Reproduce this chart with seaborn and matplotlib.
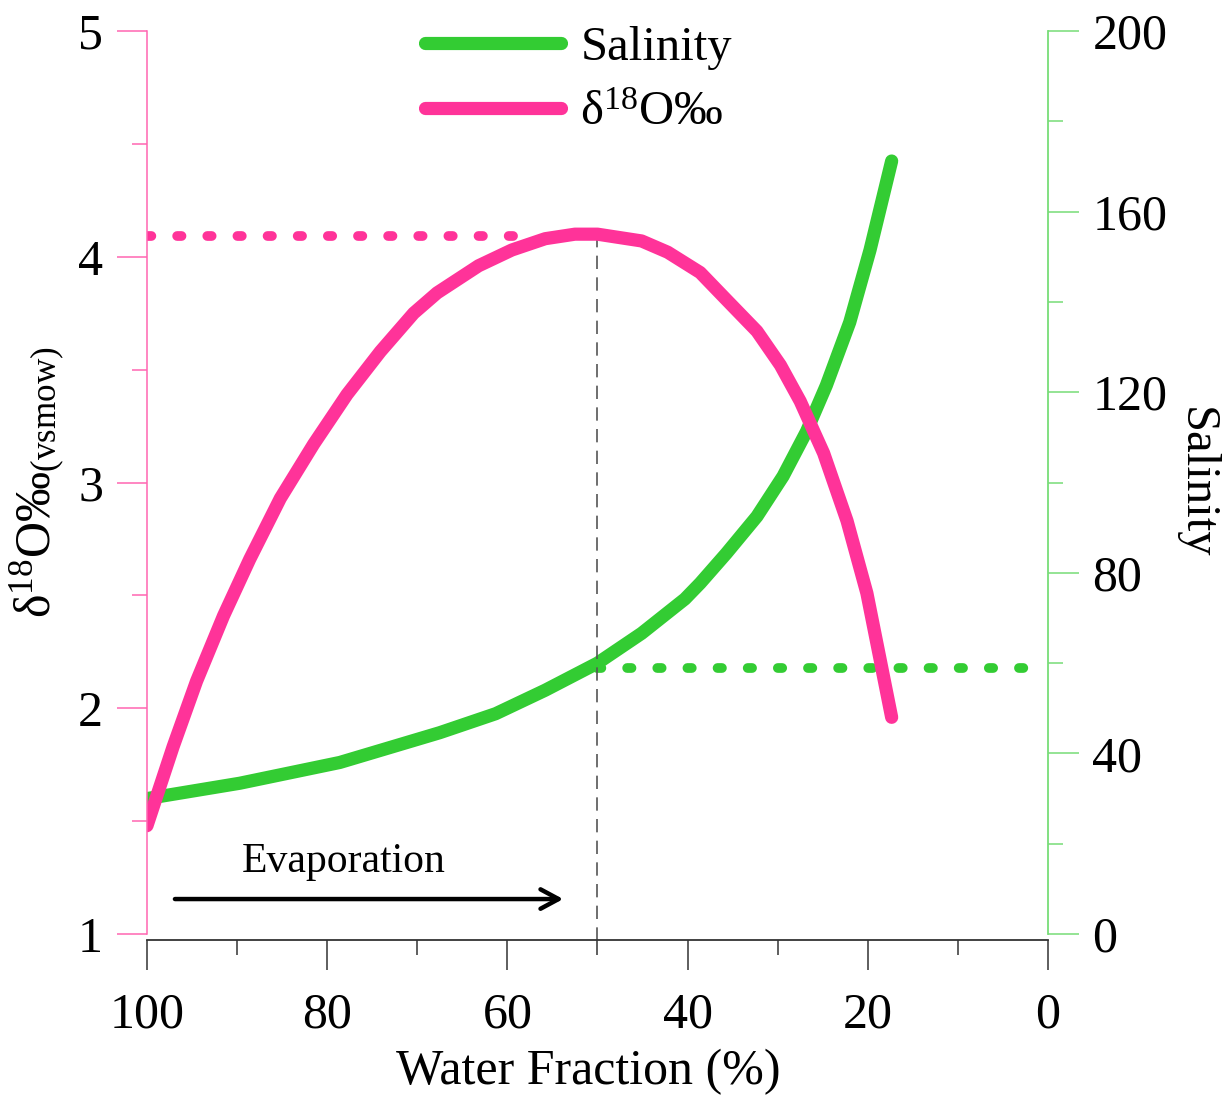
import matplotlib
matplotlib.use("Agg")
import numpy as np
import pandas as pd
import seaborn as sns
import matplotlib.pyplot as plt
from matplotlib.lines import Line2D

# values
water_fraction_d18o = [100, 97.1, 94.5, 91.5, 88.6, 85.2, 81.5, 77.8, 74.1, 70.4, 67.8,
                       63.2, 59.5, 55.8, 52.5, 50.0, 45.1, 42.2, 38.6, 35.7, 32.3,
                       29.7, 27.5, 24.9, 22.3, 20.1, 18.6, 17.35]
d18o = [1.48, 1.83, 2.12, 2.41, 2.66, 2.93, 3.17, 3.39, 3.58, 3.75, 3.84,
        3.96, 4.03, 4.08, 4.10, 4.10, 4.07, 4.02, 3.93, 3.81, 3.67,
        3.52, 3.36, 3.13, 2.83, 2.51, 2.21, 1.96]

water_fraction_sal = [100, 89.7, 78.6, 67.5, 61.3, 55.8, 50.0, 45.1, 40.3, 38.6, 35.7,
                      32.3, 29.4, 26.8, 24.6, 22.0, 19.75, 17.35]
salinity = [30.0, 33.4, 38.0, 44.6, 48.8, 54.0, 60.0, 66.6, 74.2, 77.7, 84.3,
            92.5, 101.4, 111.3, 121.5, 135.5, 151.5, 171.2]

# guide lines
d18o_max_level = 4.09
d18o_guide_span = [100, 58.5]
salinity_level = 59
salinity_guide_span = [50, 2]
split_fraction = 50

x_ticks = [100, 80, 60, 40, 20, 0]
d18o_ticks = [1, 2, 3, 4, 5]
salinity_ticks = [0, 40, 80, 120, 160, 200]

PINK = "#FF3399"
PINK_AXIS = "#FF66B2"
GREEN = "#33CC33"
GREEN_AXIS = "#77DD77"

sns.set_style("ticks")
plt.rcParams["font.family"] = ["Liberation Serif", "DejaVu Serif"]
plt.rcParams["mathtext.fontset"] = "custom"
plt.rcParams["mathtext.rm"] = "Liberation Serif"
plt.rcParams["mathtext.it"] = "Liberation Serif:italic"
plt.rcParams["text.color"] = "black"
plt.rcParams["axes.labelcolor"] = "black"
plt.rcParams["xtick.labelcolor"] = "black"
plt.rcParams["ytick.labelcolor"] = "black"

fig = plt.figure(figsize=(12.28, 10.99), dpi=100)
ax = fig.add_axes([0.1197, 0.1501, 0.7337, 0.8217])
ax2 = ax.twinx()

df_d = pd.DataFrame({"wf": water_fraction_d18o, "d18o": d18o})
df_s = pd.DataFrame({"wf": water_fraction_sal, "sal": salinity})

sns.lineplot(data=df_d, x="wf", y="d18o", ax=ax, color=PINK, lw=9.5,
             solid_capstyle="round", solid_joinstyle="round", sort=False)
sns.lineplot(data=df_s, x="wf", y="sal", ax=ax2, color=GREEN, lw=9.5,
             solid_capstyle="round", solid_joinstyle="round", sort=False)

# dotted / dashed guides
ax.plot(d18o_guide_span, [d18o_max_level] * 2, color=PINK, lw=7,
        dashes=(0.45, 2.65), dash_capstyle="round")
ax2.plot(salinity_guide_span, [salinity_level] * 2, color=GREEN, lw=7,
         dashes=(0.45, 2.65), dash_capstyle="round")
ax.plot([split_fraction, split_fraction], [4.10, 0.975], color="#555555", lw=1.2,
        dashes=(8, 5), clip_on=False, zorder=1)

# evaporation arrow
ax.annotate("", xy=(53.8, 1.155), xytext=(96.9, 1.155),
            arrowprops=dict(arrowstyle="->,head_length=0.65,head_width=0.35",
                            lw=3.2, color="black", shrinkA=0, shrinkB=0,
                            mutation_scale=20))
ax.text(78.2, 1.32, "Evaporation", fontsize=30, ha="center", va="center")

ax.set_xlim(100, 0)
ax.set_ylim(1, 5)
ax2.set_ylim(0, 200)

ax.set_xticks(x_ticks)
ax.set_xticks([90, 70, 50, 30, 10], minor=True)
ax.set_yticks(d18o_ticks)
ax.set_yticks([1.5, 2.5, 3.5, 4.5], minor=True)
ax2.set_yticks(salinity_ticks)
ax2.set_yticks([20, 60, 100, 140, 180], minor=True)

ax.spines["top"].set_visible(False)
ax.spines["right"].set_visible(False)
ax.spines["left"].set_color(PINK_AXIS)
ax.spines["left"].set_linewidth(1.1)
ax.spines["bottom"].set_color("#333333")
ax.spines["bottom"].set_linewidth(1.3)
ax.spines["bottom"].set_position(("outward", 4.3))
for s in ["top", "left", "bottom"]:
    ax2.spines[s].set_visible(False)
ax2.spines["right"].set_color(GREEN_AXIS)
ax2.spines["right"].set_linewidth(1.3)

ax.tick_params(axis="x", which="major", length=21.6, width=1.1, color="#333333",
               labelsize=36, pad=15.5)
ax.tick_params(axis="x", which="minor", length=10.8, width=1.1, color="#333333")
ax.tick_params(axis="y", which="major", length=21.6, width=1.1, color=PINK_AXIS,
               labelsize=36, pad=10)
ax.tick_params(axis="y", which="minor", length=10.8, width=1.1, color=PINK_AXIS)
ax2.tick_params(axis="y", which="major", length=22, width=1.1, color=GREEN_AXIS,
                labelsize=36, pad=10)
ax2.tick_params(axis="y", which="minor", length=11, width=1.1, color=GREEN_AXIS)

ax.set_xlabel("Water Fraction (%)", fontsize=36)
ax.xaxis.set_label_coords(0.49, -0.127)
ax.set_ylabel(r"δ$^{18}$O‰$_{\mathrm{(vsmow)}}$", fontsize=36)
ax.yaxis.set_label_coords(-0.088, 0.5)
ax2.set_ylabel("Salinity", fontsize=35, rotation=270, va="bottom")
ax2.yaxis.set_label_coords(1.14, 0.5)

# pink curve drawn above green
ax.set_zorder(2)
ax2.set_zorder(1)
ax.patch.set_visible(False)

handles = [Line2D([], [], color=GREEN, lw=9.5, solid_capstyle="round"),
           Line2D([], [], color=PINK, lw=9.5, solid_capstyle="round")]
fig.legend(handles=handles, labels=["Salinity", r"δ$^{18}$O‰"], loc="upper left",
           bbox_to_anchor=(0.346, 0.9763), frameon=False, fontsize=35,
           handlelength=2.8, handletextpad=0.4, labelspacing=0.43,
           borderpad=0, borderaxespad=0)

fig.savefig("out.png", dpi=100)
